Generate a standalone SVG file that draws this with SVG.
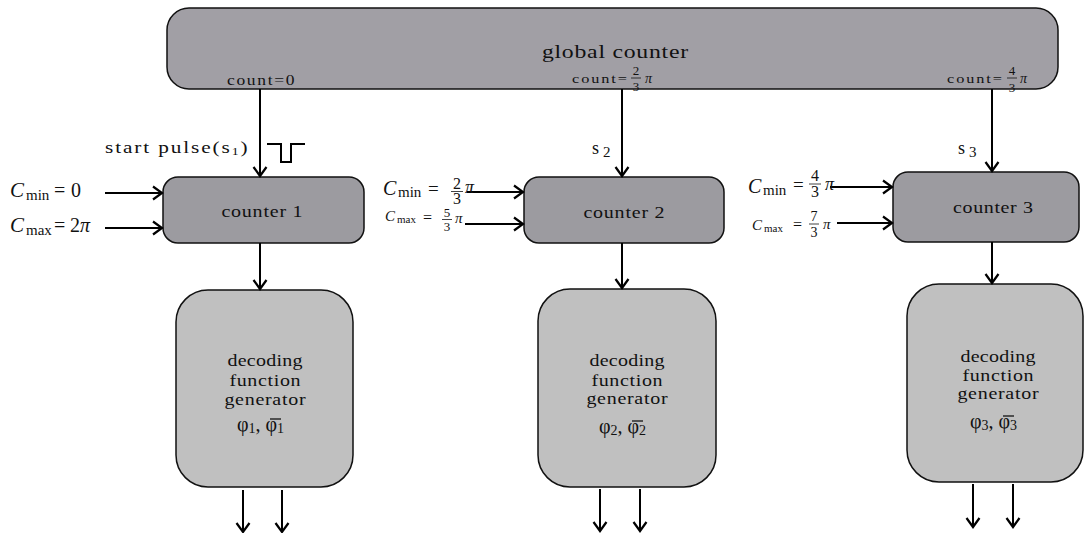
<svg xmlns="http://www.w3.org/2000/svg" width="1084" height="533" viewBox="0 0 1084 533">
  <style>
    text { font-family: "Liberation Serif", "Times New Roman", serif; fill: #111; }
    .it { font-style: italic; }
    .mid { text-anchor: middle; }
    .box { stroke: #111; stroke-width: 1.5; }
    .glob { fill: #a19fa5; }
    .cnt { fill: #9c9ba0; }
    .dec { fill: #c0c0c0; }
    .wire { stroke: #000; stroke-width: 2; fill: none; }
    .arr { stroke: #000; stroke-width: 2; fill: none; marker-end: url(#head); }
    .bar { stroke: #111; stroke-width: 0.8; }
    .ovl { stroke: #111; stroke-width: 1.3; }
  </style>
  <defs>
    <marker id="head" markerUnits="userSpaceOnUse" viewBox="-10 -8 12 16" refX="0" refY="0" markerWidth="12" markerHeight="16" orient="auto">
      <path d="M-9,-6.5 L0,0 L-9,6.5" fill="none" stroke="#000" stroke-width="2.2"/>
    </marker>
  </defs>

  <rect width="1084" height="533" fill="#fff"/>

  <!-- global counter -->
  <g id="global-counter">
    <rect class="box glob" x="167" y="8" width="891" height="81" rx="22"/>
    <text class="mid" transform="translate(615,58) scale(1.25,1)" font-size="19" textLength="117" lengthAdjust="spacing">global counter</text>
    <text transform="translate(227,85) scale(1.25,1)" font-size="14" textLength="54" lengthAdjust="spacing">count=0</text>
    <text transform="translate(572,83) scale(1.25,1)" font-size="13" textLength="44" lengthAdjust="spacing">count=</text>
    <text class="mid" x="636" y="75" font-size="13">2</text>
    <line class="bar" x1="631" y1="78" x2="641" y2="78"/>
    <text class="mid" x="636" y="91" font-size="13">3</text>
    <text class="it" x="645" y="83" font-size="14">π</text>
    <text transform="translate(947,83) scale(1.25,1)" font-size="13" textLength="44" lengthAdjust="spacing">count=</text>
    <text class="mid" x="1012" y="75" font-size="13">4</text>
    <line class="bar" x1="1007" y1="78" x2="1017" y2="78"/>
    <text class="mid" x="1012" y="92" font-size="13">3</text>
    <text class="it" x="1020" y="83" font-size="14">π</text>
  </g>

  <!-- counters -->
  <g id="counter-1">
    <rect class="box cnt" x="163" y="177" width="201" height="66" rx="15"/>
    <text class="mid" transform="translate(262,217) scale(1.25,1)" font-size="16" textLength="65" lengthAdjust="spacing">counter 1</text>
  </g>
  <g id="counter-2">
    <rect class="box cnt" x="524" y="177" width="200" height="66" rx="15"/>
    <text class="mid" transform="translate(624,218) scale(1.25,1)" font-size="16" textLength="65" lengthAdjust="spacing">counter 2</text>
  </g>
  <g id="counter-3">
    <rect class="box cnt" x="893" y="172" width="186" height="70" rx="15"/>
    <text class="mid" transform="translate(993,213) scale(1.25,1)" font-size="16" textLength="64" lengthAdjust="spacing">counter 3</text>
  </g>

  <!-- decoding function generators -->
  <g id="decoder-1">
    <rect class="box dec" x="176" y="290" width="177" height="197" rx="32"/>
    <text class="mid" transform="translate(265,366) scale(1.25,1)" font-size="16" textLength="60" lengthAdjust="spacing">decoding</text>
    <text class="mid" transform="translate(265,386) scale(1.25,1)" font-size="16" textLength="57" lengthAdjust="spacing">function</text>
    <text class="mid" transform="translate(265,405) scale(1.25,1)" font-size="16" textLength="65" lengthAdjust="spacing">generator</text>
    <text x="237" y="431" font-size="20">φ<tspan font-size="14" dy="2">1</tspan><tspan dy="-2">, φ</tspan><tspan font-size="14" dy="2">1</tspan></text>
    <line class="ovl" x1="270" y1="419" x2="281" y2="419"/>
  </g>
  <g id="decoder-2">
    <rect class="box dec" x="538" y="289" width="178" height="198" rx="32"/>
    <text class="mid" transform="translate(627,366) scale(1.25,1)" font-size="16" textLength="60" lengthAdjust="spacing">decoding</text>
    <text class="mid" transform="translate(627,386) scale(1.25,1)" font-size="16" textLength="57" lengthAdjust="spacing">function</text>
    <text class="mid" transform="translate(627,404) scale(1.25,1)" font-size="16" textLength="65" lengthAdjust="spacing">generator</text>
    <text x="599" y="433" font-size="20">φ<tspan font-size="14" dy="2">2</tspan><tspan dy="-2">, φ</tspan><tspan font-size="14" dy="2">2</tspan></text>
    <line class="ovl" x1="632" y1="421" x2="643" y2="421"/>
  </g>
  <g id="decoder-3">
    <rect class="box dec" x="907" y="284" width="176" height="198" rx="32"/>
    <text class="mid" transform="translate(998,362) scale(1.25,1)" font-size="16" textLength="60" lengthAdjust="spacing">decoding</text>
    <text class="mid" transform="translate(998,381) scale(1.25,1)" font-size="16" textLength="57" lengthAdjust="spacing">function</text>
    <text class="mid" transform="translate(998,399) scale(1.25,1)" font-size="16" textLength="65" lengthAdjust="spacing">generator</text>
    <text x="970" y="428" font-size="20">φ<tspan font-size="14" dy="2">3</tspan><tspan dy="-2">, φ</tspan><tspan font-size="14" dy="2">3</tspan></text>
    <line class="ovl" x1="1003" y1="416" x2="1014" y2="416"/>
  </g>

  <!-- connectors -->
  <g id="connectors">
    <line class="arr" x1="260" y1="89" x2="260" y2="176"/>
    <line class="arr" x1="622" y1="89" x2="622" y2="176"/>
    <line class="arr" x1="992" y1="89" x2="992" y2="171"/>

    <line class="arr" x1="105" y1="193" x2="162" y2="193"/>
    <line class="arr" x1="105" y1="228" x2="162" y2="228"/>
    <line class="arr" x1="467" y1="192" x2="523" y2="192"/>
    <line class="arr" x1="465" y1="224" x2="523" y2="224"/>
    <line class="arr" x1="830" y1="187" x2="892" y2="187"/>
    <line class="arr" x1="837" y1="223" x2="892" y2="223"/>

    <line class="arr" x1="260" y1="243" x2="260" y2="289"/>
    <line class="arr" x1="622" y1="243" x2="622" y2="288"/>
    <line class="arr" x1="992" y1="242" x2="992" y2="283"/>

    <line class="arr" x1="243" y1="490" x2="243" y2="532"/>
    <line class="arr" x1="282" y1="490" x2="282" y2="532"/>
    <line class="arr" x1="600" y1="489" x2="600" y2="531"/>
    <line class="arr" x1="640" y1="489" x2="640" y2="531"/>
    <line class="arr" x1="973" y1="484" x2="973" y2="527"/>
    <line class="arr" x1="1013" y1="484" x2="1013" y2="527"/>

    <!-- start pulse waveform -->
    <polyline class="wire" stroke-width="1.5" points="267,144 281,144 281,162 291,162 291,144 305,144"/>
  </g>

  <!-- signal labels -->
  <g id="labels">
    <text transform="translate(105,153) scale(1.25,1)" font-size="17" textLength="114" lengthAdjust="spacing">start  pulse(s<tspan font-size="11" dy="2">1</tspan><tspan dy="-2">)</tspan></text>
    <text x="592" y="154" font-size="18">s<tspan font-size="15" dx="4" dy="3">2</tspan></text>
    <text x="958" y="154" font-size="18">s<tspan font-size="15" dx="4" dy="3">3</tspan></text>

    <!-- counter 1 limits -->
    <text class="it" x="10" y="197" font-size="21">C</text>
    <text x="26" y="200" font-size="15">min</text>
    <text x="54" y="197" font-size="20">=</text>
    <text x="71" y="197" font-size="20">0</text>
    <text class="it" x="10" y="232" font-size="21">C</text>
    <text x="26" y="235" font-size="15">max</text>
    <text x="54" y="232" font-size="20">=</text>
    <text x="70" y="232" font-size="20">2<tspan class="it">π</tspan></text>

    <!-- counter 2 limits -->
    <text class="it" x="383" y="195" font-size="20">C</text>
    <text x="398" y="197" font-size="15">min</text>
    <text x="428" y="195" font-size="19">=</text>
    <text class="mid" x="457" y="189" font-size="16">2</text>
    <line class="bar" x1="451" y1="191.5" x2="463" y2="191.5"/>
    <text class="mid" x="457" y="204" font-size="16">3</text>
    <text class="it" x="465" y="193" font-size="18">π</text>
    <text class="it" x="385" y="221" font-size="15">C</text>
    <text x="397" y="223" font-size="11">max</text>
    <text x="423" y="223" font-size="16">=</text>
    <text class="mid" x="447" y="217" font-size="13">5</text>
    <line class="bar" x1="442" y1="219.5" x2="452" y2="219.5"/>
    <text class="mid" x="447" y="231" font-size="13">3</text>
    <text class="it" x="455" y="223" font-size="15">π</text>

    <!-- counter 3 limits -->
    <text class="it" x="748" y="193" font-size="20">C</text>
    <text x="763" y="195" font-size="15">min</text>
    <text x="793" y="191" font-size="19">=</text>
    <text class="mid" x="815" y="181" font-size="16">4</text>
    <line class="bar" x1="809" y1="184" x2="821" y2="184"/>
    <text class="mid" x="815" y="197" font-size="16">3</text>
    <text class="it" x="825" y="190" font-size="18">π</text>
    <text class="it" x="752" y="230" font-size="15">C</text>
    <text x="764" y="232" font-size="11">max</text>
    <text x="793" y="230" font-size="16">=</text>
    <text class="mid" x="814" y="221" font-size="14">7</text>
    <line class="bar" x1="809" y1="224" x2="819" y2="224"/>
    <text class="mid" x="814" y="237" font-size="14">3</text>
    <text class="it" x="823" y="229" font-size="15">π</text>
  </g>
</svg>
